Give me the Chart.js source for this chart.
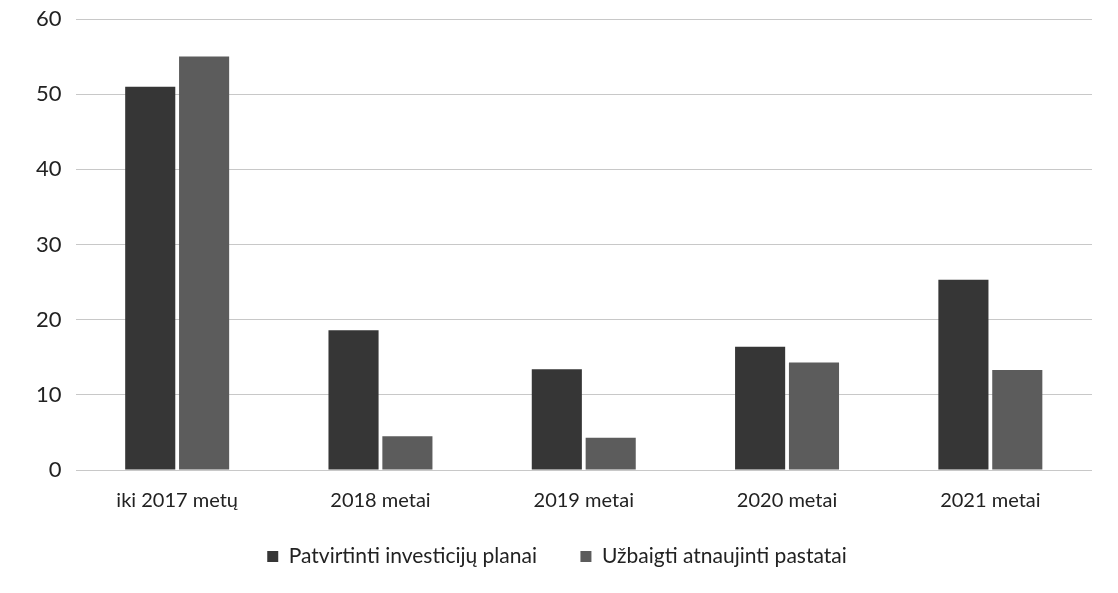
<!DOCTYPE html>
<html>
<head>
<meta charset="utf-8">
<script src="https://cdn.jsdelivr.net/npm/chart.js@4"></script>
<style>
  html, body { margin: 0; padding: 0; background: #fff; }
  #wrap { width: 1118px; height: 593px; }
</style>
</head>
<body>
<div id="wrap"><canvas id="barChart" width="1118" height="593"></canvas></div>
<script>
const categories = ['iki 2017 metų', '2018 metai', '2019 metai', '2020 metai', '2021 metai'];
const planai = [51, 18.6, 13.4, 16.4, 25.3];
const pastatai = [55, 4.5, 4.3, 14.3, 13.3];
const seriesNames = ['Patvirtinti investicijų planai', 'Užbaigti atnaujinti pastatai'];

const fontFamily = 'Lato, "Open Sans", sans-serif';

const ctx = document.getElementById('barChart').getContext('2d');
new Chart(ctx, {
    type: 'bar',
    data: {
        labels: categories,
        datasets: [
            { label: seriesNames[0], data: planai, backgroundColor: '#363636' },
            { label: seriesNames[1], data: pastatai, backgroundColor: '#5c5c5c' }
        ]
    },
    options: {
        responsive: false,
        animation: false,
        layout: { padding: { top: 19, left: 22, right: 26, bottom: 16 } },
        datasets: {
            bar: { categoryPercentage: 0.53, barPercentage: 0.93 }
        },
        scales: {
            x: {
                grid: { display: false },
                border: { display: false },
                ticks: { color: '#222', font: { family: fontFamily, size: 20 }, padding: 11 }
            },
            y: {
                min: 0,
                max: 60,
                afterFit: (scale) => { scale.paddingTop = 0; },
                ticks: { stepSize: 10, color: '#222', font: { family: fontFamily, size: 22 }, padding: 14 },
                grid: { color: '#c8c8c8', lineWidth: 1, drawTicks: false },
                border: { display: false }
            }
        },
        plugins: {
            legend: {
                position: 'bottom',
                labels: {
                    color: '#222',
                    font: { family: fontFamily, size: 21 },
                    boxWidth: 11,
                    boxHeight: 11,
                    padding: 22,
                    generateLabels: (chart) => {
                        const items = Chart.defaults.plugins.legend.labels.generateLabels(chart);
                        items[0].text = items[0].text + '    ';
                        return items;
                    }
                }
            },
            tooltip: { enabled: false }
        }
    }
});
</script>
</body>
</html>
